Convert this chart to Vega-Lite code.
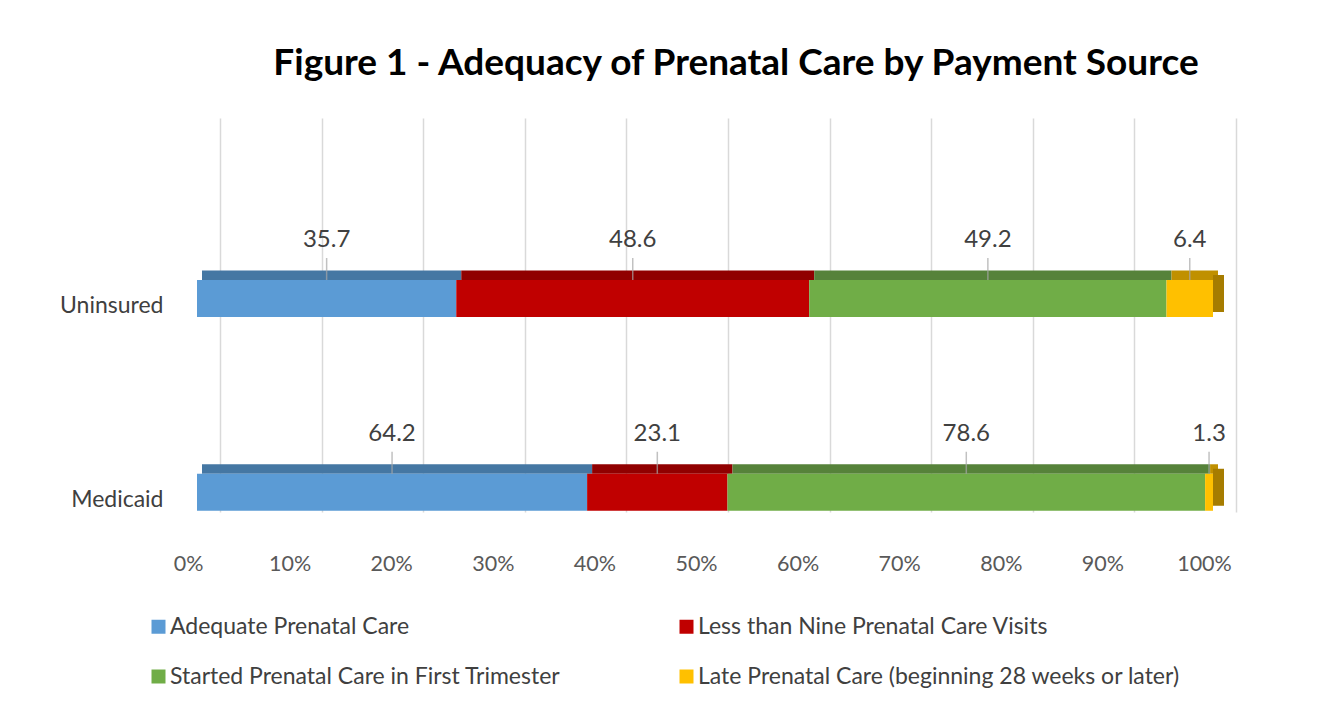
{
  "$schema": "https://vega.github.io/schema/vega-lite/v6.json",
  "width": 1016,
  "height": 394,
  "autosize": {"type": "none"},
  "padding": {"left": 197, "top": 118, "right": 117, "bottom": 199},
  "background": "white",
  "config": {"view": {"stroke": null}, "font": "Lato"},
  "title": {
    "text": "Figure 1 - Adequacy of Prenatal Care by Payment Source",
    "font": "Lato",
    "fontSize": 37,
    "fontWeight": "bold",
    "color": "#000000",
    "anchor": "middle",
    "dx": 31,
    "offset": 34
  },
  "data": {
    "values": [
      {"source": "Uninsured", "category": "Adequate Prenatal Care", "value": 35.7},
      {"source": "Uninsured", "category": "Less than Nine Prenatal Care Visits", "value": 48.6},
      {"source": "Uninsured", "category": "Started Prenatal Care in First Trimester", "value": 49.2},
      {"source": "Uninsured", "category": "Late Prenatal Care (beginning 28 weeks or later)", "value": 6.4},
      {"source": "Medicaid", "category": "Adequate Prenatal Care", "value": 64.2},
      {"source": "Medicaid", "category": "Less than Nine Prenatal Care Visits", "value": 23.1},
      {"source": "Medicaid", "category": "Started Prenatal Care in First Trimester", "value": 78.6},
      {"source": "Medicaid", "category": "Late Prenatal Care (beginning 28 weeks or later)", "value": 1.3}
    ]
  },
  "transform": [
    {"calculate": "indexof(['Adequate Prenatal Care','Less than Nine Prenatal Care Visits','Started Prenatal Care in First Trimester','Late Prenatal Care (beginning 28 weeks or later)'], datum.category)", "as": "idx"},
    {"stack": "value", "groupby": ["source"], "sort": [{"field": "idx", "order": "ascending"}], "offset": "normalize", "as": ["x0", "x1"]},
    {"calculate": "(datum.x0 + datum.x1) / 2", "as": "mid"}
  ],
  "encoding": {
    "y": {
      "field": "source",
      "type": "nominal",
      "sort": ["Uninsured", "Medicaid"],
      "scale": {"paddingInner": 0.85, "paddingOuter": 0.4417, "align": 0.9696},
      "axis": {
        "title": null,
        "domain": false,
        "ticks": false,
        "tickSize": 0,
        "labelPadding": 34,
        "labelOffset": 7.5,
        "labelFont": "Lato",
        "labelFontSize": 23,
        "labelColor": "#404040"
      }
    }
  },
  "layer": [
    {
      "mark": {"type": "bar", "height": 9.5, "yOffset": -23.25, "xOffset": 5, "x2Offset": 5},
      "encoding": {
        "x": {
          "field": "x0",
          "type": "quantitative",
          "scale": {"domain": [0, 1], "nice": false, "zero": true},
          "axis": {
            "orient": "top",
            "title": null,
            "labels": false,
            "ticks": true,
            "tickSize": -394,
            "tickOffset": 23,
            "tickColor": "#d9d9d9",
            "tickWidth": 1.5,
            "domain": false,
            "grid": false,
            "values": [0, 0.1, 0.2, 0.3, 0.4, 0.5, 0.6, 0.7, 0.8, 0.9, 1]
          }
        },
        "x2": {"field": "x1"},
        "color": {
          "field": "category",
          "type": "nominal",
          "scale": {
            "domain": ["Adequate Prenatal Care", "Less than Nine Prenatal Care Visits", "Started Prenatal Care in First Trimester", "Late Prenatal Care (beginning 28 weeks or later)"],
            "range": ["#4577a3", "#900000", "#56823a", "#c09000"]
          },
          "legend": null
        }
      }
    },
    {
      "transform": [{"filter": "datum.x1 > 0.9999"}],
      "mark": {"type": "bar", "height": 37, "yOffset": -5, "x2Offset": 11, "color": "#a67c00"},
      "encoding": {
        "x": {"field": "x1", "type": "quantitative", "axis": null},
        "x2": {"field": "x1"}
      }
    },
    {
      "mark": {"type": "bar", "height": 37},
      "encoding": {
        "x": {
          "field": "x0",
          "type": "quantitative",
          "scale": {"domain": [0, 1], "nice": false, "zero": true},
          "axis": {
            "orient": "bottom",
            "title": null,
            "format": ".0%",
            "grid": false,
            "domain": false,
            "ticks": false,
            "tickSize": 0,
            "labelFlush": false,
            "labelPadding": 41,
            "labelOffset": -9,
            "labelFont": "Lato",
            "labelFontSize": 21.5,
            "labelColor": "#595959",
            "values": [0, 0.1, 0.2, 0.3, 0.4, 0.5, 0.6, 0.7, 0.8, 0.9, 1]
          }
        },
        "x2": {"field": "x1"},
        "color": {
          "field": "category",
          "type": "nominal",
          "scale": {
            "domain": ["Adequate Prenatal Care", "Less than Nine Prenatal Care Visits", "Started Prenatal Care in First Trimester", "Late Prenatal Care (beginning 28 weeks or later)"],
            "range": ["#5b9bd5", "#c00000", "#70ad47", "#ffc000"]
          },
          "legend": {
            "orient": "none",
            "legendX": -50,
            "legendY": 497,
            "columns": 2,
            "direction": "horizontal",
            "title": null,
            "symbolType": "square",
            "symbolSize": 196,
            "symbolStrokeWidth": 0,
            "symbolOpacity": 1,
            "labelFont": "Lato",
            "labelFontSize": 23,
            "labelColor": "#404040",
            "labelLimit": 700,
            "labelOffset": 0,
            "rowPadding": 26,
            "columnPadding": 114
          }
        }
      }
    },
    {
      "mark": {"type": "tick", "size": 22, "thickness": 1.5, "yOffset": -29.5, "color": "#a6a6a6"},
      "encoding": {
        "x": {"field": "mid", "type": "quantitative", "axis": null}
      }
    },
    {
      "mark": {"type": "text", "dy": -58, "fontSize": 24, "font": "Lato", "color": "#404040", "baseline": "middle"},
      "encoding": {
        "x": {"field": "mid", "type": "quantitative", "axis": null},
        "text": {"field": "value", "type": "quantitative", "format": ".1f"}
      }
    }
  ],
  "resolve": {"scale": {"color": "independent"}, "axis": {"x": "independent"}}
}
